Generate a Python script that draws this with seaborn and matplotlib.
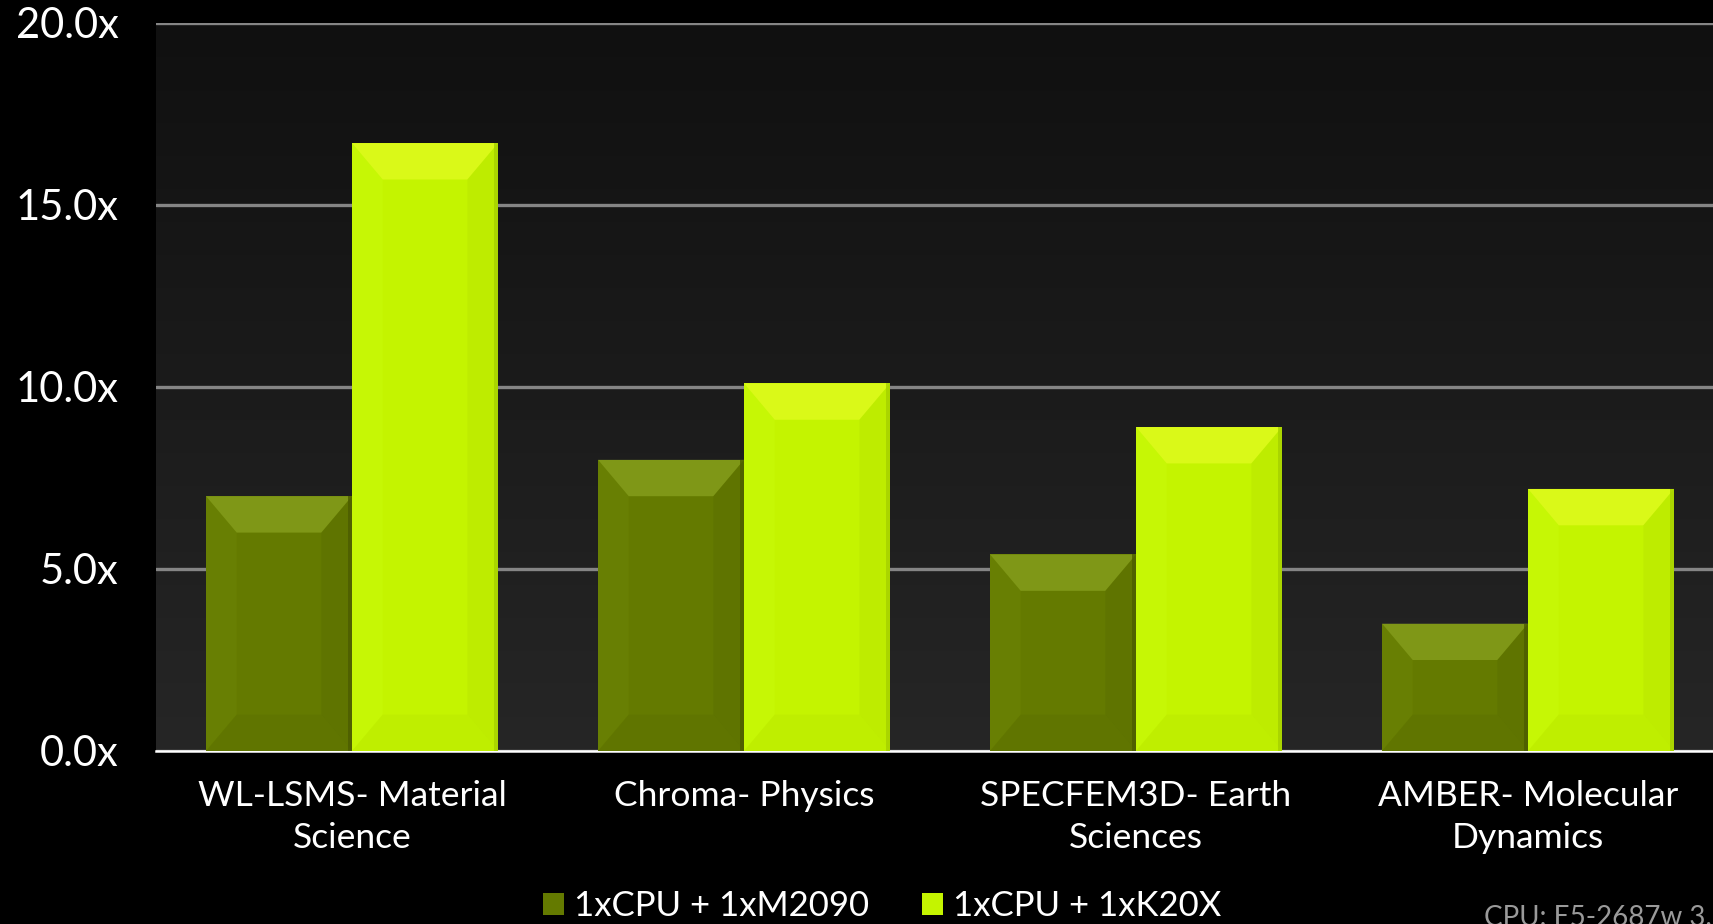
import numpy as np
import pandas as pd
import matplotlib.pyplot as plt
import seaborn as sns
from matplotlib.patches import Polygon

categories = ["WL-LSMS- Material\nScience", "Chroma- Physics",
              "SPECFEM3D- Earth\nSciences", "AMBER- Molecular\nDynamics"]
series = ["1xCPU + 1xM2090", "1xCPU + 1xK20X"]
m2090 = [7.0, 8.0, 5.4, 3.5]
k20x = [16.7, 10.1, 8.9, 7.2]
yticks = [0, 5, 10, 15, 20]
colors = ["#647a00", "#c4f400"]

df = pd.DataFrame({
    "app": categories * 2,
    "config": [series[0]] * 4 + [series[1]] * 4,
    "speedup": m2090 + k20x,
})

sns.set_style("dark")
plt.rcParams['font.family'] = ['Lato', 'DejaVu Sans']

fig = plt.figure(figsize=(17.13, 9.24), dpi=100, facecolor="black")
ax = fig.add_axes([156 / 1713, 173 / 924, 1568 / 1713, 728 / 924])
ax.set_facecolor("#222222")

# dark gradient behind the bars
grad = np.linspace(0, 1, 256).reshape(-1, 1)
ax.imshow(grad, extent=[0, 1, 0, 1], transform=ax.transAxes, aspect="auto",
          cmap=sns.blend_palette(["#262626", "#101010"], as_cmap=True),
          origin="lower", zorder=0)

sns.barplot(data=df, x="app", y="speedup", hue="config", palette=colors,
            width=0.745, gap=0, saturation=1, ax=ax, zorder=3,
            edgecolor="none", linewidth=0)

# soft bevel look: light top, lighter left, darker right and bottom
for p in list(ax.patches):
    x0, w, h = p.get_x(), p.get_width(), p.get_height()
    if h <= 0:
        continue
    olive = p.get_facecolor()[1] < 0.6
    top_c = "#9ab52e" if olive else "#f0ff30"
    left_c = "#748c0a" if olive else "#ccff12"
    right_c = "#4c5c00" if olive else "#a6d000"
    bot_c = "#566a00" if olive else "#b2e000"
    b = min(1.0, h / 2)
    s = w * 0.21
    ax.add_patch(Polygon([[x0, h], [x0 + w, h], [x0 + w - s, h - b], [x0 + s, h - b]],
                         facecolor=top_c, edgecolor="none", alpha=0.5, zorder=4))
    ax.add_patch(Polygon([[x0, h], [x0 + s, h - b], [x0 + s, b], [x0, 0]],
                         facecolor=left_c, edgecolor="none", alpha=0.3, zorder=4))
    ax.add_patch(Polygon([[x0 + w, h], [x0 + w - s, h - b], [x0 + w - s, b], [x0 + w, 0]],
                         facecolor=right_c, edgecolor="none", alpha=0.2, zorder=4))
    ax.add_patch(Polygon([[x0, 0], [x0 + s, b], [x0 + w - s, b], [x0 + w, 0]],
                         facecolor=bot_c, edgecolor="none", alpha=0.25, zorder=4))
    ax.add_patch(plt.Rectangle((x0 + w - w * 0.025, 0), w * 0.025, h,
                               facecolor=right_c, edgecolor="none", alpha=0.8, zorder=5))

ax.set_xlim(-0.5, 3.5)
ax.set_ylim(0, 20)
ax.set_yticks(yticks)
ax.set_yticklabels([f"{v:.1f}x" for v in yticks], color="white", fontsize=30)
ax.tick_params(axis="y", length=0, pad=27)
ax.yaxis.grid(True, color="#858585", linewidth=2.4, zorder=1)
ax.xaxis.grid(False)
ax.set_axisbelow(True)

ax.set_xticks(range(4))
ax.set_xticklabels(categories, color="white", fontsize=25.5, linespacing=1.38)
ax.tick_params(axis="x", length=0, pad=21)
ax.set_xticks([-0.5, 0.5, 1.5, 2.5], minor=True)
ax.tick_params(axis="x", which="minor", length=9, width=1.5, color="white", direction="out")

for sp in ["top", "right", "left"]:
    ax.spines[sp].set_visible(False)
ax.spines["bottom"].set_color("white")
ax.spines["bottom"].set_linewidth(1.8)
ax.set_xlabel("")
ax.set_ylabel("")

ax.legend_.remove()
handles = [plt.Rectangle((0, 0), 1, 1, facecolor=c, edgecolor="none") for c in colors]
fig.legend(handles, series, loc="center", bbox_to_anchor=(0.515, 0.019),
           ncol=2, frameon=False, labelcolor="white",
           prop={"family": ["Lato", "DejaVu Sans"], "size": 25},
           handlelength=0.6, handleheight=0.6, handletextpad=0.3,
           columnspacing=1.5)

fig.text(1484 / 1713, -0.008, "CPU: E5-2687w 3.10 GHz Sandy Bridge", color="#9a9a9a",
         fontsize=20, ha="left", va="bottom")

plt.savefig("out.png", dpi=100, facecolor="black")
